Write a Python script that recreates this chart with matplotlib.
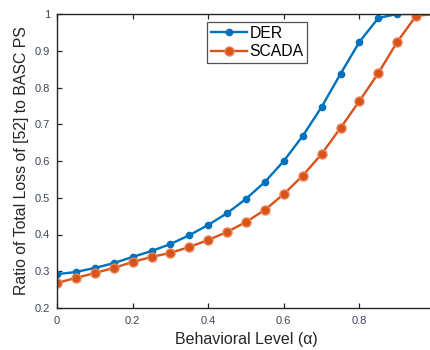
import matplotlib
matplotlib.use("Agg")
import matplotlib.pyplot as plt
import numpy as np

alpha = [0.0, 0.05, 0.10, 0.15, 0.20, 0.25, 0.30, 0.35, 0.40, 0.45, 0.50,
         0.55, 0.60, 0.65, 0.70, 0.75, 0.80, 0.85, 0.90, 0.95, 1.0]
der = [0.292, 0.298, 0.309, 0.322, 0.339, 0.355, 0.374, 0.398, 0.426, 0.458, 0.497,
       0.543, 0.600, 0.668, 0.747, 0.837, 0.924, 0.989, 1.0, 1.0, 1.0]
scada = [0.268, 0.282, 0.295, 0.309, 0.325, 0.339, 0.350, 0.366, 0.385, 0.407, 0.434,
         0.467, 0.510, 0.560, 0.619, 0.690, 0.763, 0.839, 0.924, 0.995, 1.0]
xticks = [0, 0.2, 0.4, 0.6, 0.8, 1.0]
xticklabels = ["0", "0.2", "0.4", "0.6", "0.8", "1"]
yticks = [0.2, 0.3, 0.4, 0.5, 0.6, 0.7, 0.8, 0.9, 1.0]
yticklabels = ["0.2", "0.3", "0.4", "0.5", "0.6", "0.7", "0.8", "0.9", "1"]

plt.rcParams['font.family'] = ['Liberation Sans', 'DejaVu Sans']

fig = plt.figure(figsize=(4.3, 3.5), dpi=100)
W, H = 430, 350
ax = fig.add_axes([57 / W, (H - 308) / H, 378 / W, 294 / H])

blue = "#0072BD"
orange = "#D95319"
ax.plot(alpha, der, color=blue, lw=1.7, marker='o', ms=4.5, mfc=blue, mec=blue, label="DER")
ax.plot(alpha, scada, color=orange, lw=1.7, marker='o', ms=6.5, mfc=orange, mec="#e8845a", mew=1.0, label="SCADA")

ax.set_xlim(0, 1)
ax.set_ylim(0.2, 1.0)
ax.set_xticks(xticks)
ax.set_xticklabels(xticklabels)
ax.set_yticks(yticks)
ax.set_yticklabels(yticklabels)

gray = "#262626"
for s in ax.spines.values():
    s.set_color(gray)
    s.set_linewidth(1.0)
ax.tick_params(direction='in', top=True, right=True, length=3.5, width=0.9,
               colors=gray, labelsize=8)
ax.tick_params(axis='x', pad=6)
ax.tick_params(axis='y', pad=5)
for lbl in ax.get_xticklabels() + ax.get_yticklabels():
    lbl.set_color("#3c4658")

ax.set_xlabel("Behavioral Level (α)", fontsize=11.5, color=gray, labelpad=4)
ax.set_ylabel("Ratio of Total Loss of [52] to BASC PS", fontsize=11.4, color=gray, labelpad=4)

leg = ax.legend(loc='upper left', bbox_to_anchor=((207 - 57) / 378, (308 - 22) / 294),
                fontsize=11.3, frameon=True, fancybox=False, edgecolor=gray,
                handlelength=2.3, handletextpad=0.15, borderpad=0.25, labelspacing=0.2,
                borderaxespad=0)
leg.get_frame().set_linewidth(0.9)

fig.savefig("out.png", dpi=100)
